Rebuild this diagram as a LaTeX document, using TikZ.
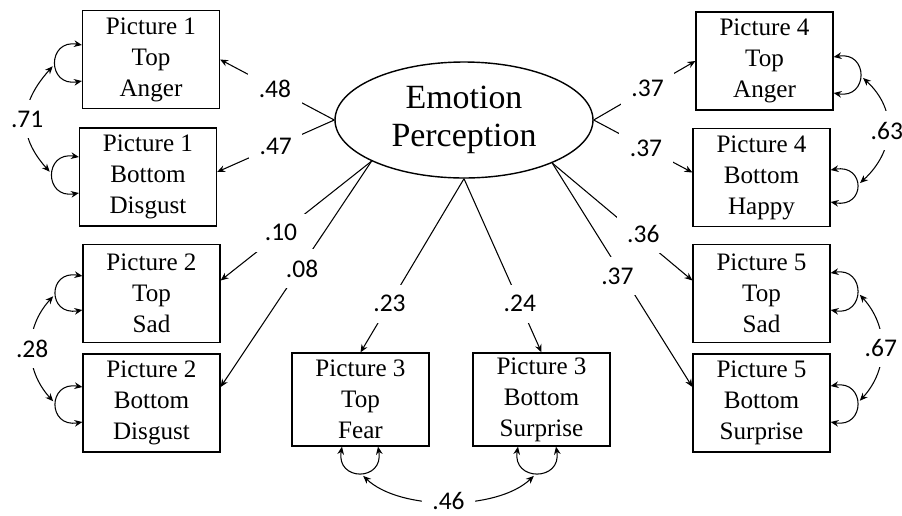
\documentclass[tikz,border=0pt]{standalone}
\usepackage{fontspec}
\setmainfont{Liberation Serif}
\newfontfamily\lblfont{Carlito}
\usetikzlibrary{arrows.meta,calc,shapes.geometric}
\begin{document}
\begin{tikzpicture}[x=0.02cm,y=-0.02cm,
  box/.style={draw,line width=0.7pt,minimum width=2.74cm,minimum height=1.96cm,align=center,inner sep=0pt,font=\fontsize{14.3}{17.6}\selectfont},
  lat/.style={draw,ellipse,line width=0.8pt,minimum width=5.16cm,minimum height=2.32cm,inner sep=0pt,align=center,font=\fontsize{19.3}{21.8}\selectfont},
  tip/.tip={Stealth[length=4.5pt,width=3.8pt]},
  arr/.style={line width=0.6pt,-tip},
  darr/.style={line width=0.6pt,tip-tip},
  cov/.style={darr,shorten <=2.5pt,shorten >=2.5pt},
  lbl/.style={fill=white,inner sep=6pt,font=\lblfont\fontsize{14.5}{16}\selectfont},
]
\useasboundingbox (0,0) rectangle (902,515);

\node[lat] (E) at (464,120) {Emotion\\Perception};

\node[box] (p1t) at (151,59.5) {Picture 1\\Top\\Anger};
\node[box] (p1b) at (148,177) {Picture 1\\Bottom\\Disgust};
\node[box] (p2t) at (151.5,293.5) {Picture 2\\Top\\Sad};
\node[box] (p2b) at (151.5,403) {Picture 2\\Bottom\\Disgust};
\node[box,minimum height=1.86cm] (p3t) at (360.5,399.5) {Picture 3\\Top\\Fear};
\node[box,minimum height=1.86cm] (p3b) at (541.5,399.5) {Picture 3\\Bottom\\Surprise};
\node[box] (p4t) at (764.5,61) {Picture 4\\Top\\Anger};
\node[box] (p4b) at (761.5,177.5) {Picture 4\\Bottom\\Happy};
\node[box] (p5t) at (761.5,293.5) {Picture 5\\Top\\Sad};
\node[box] (p5b) at (761.5,403) {Picture 5\\Bottom\\Surprise};

% loadings
\draw[arr] (E.west) -- node[lbl,pos=0.52]{.48} (p1t.east);
\draw[arr] (E.west) -- node[lbl,pos=0.5]{.47} ($(p1b.east)+(0,-5)$);
\draw[arr] (E.204.5) -- node[lbl,pos=0.6]{.10} ($(p2t.east)+(0,-13)$);
\draw[arr] (E.204.5) -- node[lbl,pos=0.46,yshift=-2pt]{.08} ($(p2b.east)+(0,-16)$);
\draw[arr] (E.south) -- node[lbl,pos=0.72]{.23} (p3t.north);
\draw[arr] (E.south) -- node[lbl,pos=0.72]{.24} (p3b.north);
\draw[arr] (E.east) -- node[lbl,pos=0.53]{.37} (p4t.west);
\draw[arr] (E.east) -- node[lbl,pos=0.53]{.37} ($(p4b.west)+(0,-5)$);
\draw[arr] (E.334.2) -- node[lbl,pos=0.6,xshift=4pt]{.36} ($(p5t.west)+(0,-13)$);
\draw[arr] (E.334.2) -- node[lbl,pos=0.49,xshift=-2pt,yshift=-2pt]{.37} ($(p5b.west)+(0,-16)$);

% residual loops
\draw[darr] ($(p1t.west)+(0,-14.5)$) .. controls +(-35,-6) and +(-35,6) .. coordinate[pos=0.5] (l1t) ($(p1t.west)+(0,21.5)$);
\draw[darr] ($(p1b.west)+(0,-20)$) .. controls +(-35,-6) and +(-35,6) .. coordinate[pos=0.5] (l1b) ($(p1b.west)+(0,16)$);
\draw[darr] ($(p2t.west)+(0,-17.5)$) .. controls +(-35,-6) and +(-35,6) .. coordinate[pos=0.5] (l2t) ($(p2t.west)+(0,16.5)$);
\draw[darr] ($(p2b.west)+(0,-16)$) .. controls +(-35,-6) and +(-35,6) .. coordinate[pos=0.5] (l2b) ($(p2b.west)+(0,19)$);
\draw[darr] ($(p4t.east)+(0,-4)$) .. controls +(35,-6) and +(35,6) .. coordinate[pos=0.5] (l4t) ($(p4t.east)+(0,32)$);
\draw[darr] ($(p4b.east)+(0,-7.5)$) .. controls +(35,-6) and +(35,6) .. coordinate[pos=0.5] (l4b) ($(p4b.east)+(0,24.5)$);
\draw[darr] ($(p5t.east)+(0,-20.5)$) .. controls +(35,-6) and +(35,6) .. coordinate[pos=0.5] (l5t) ($(p5t.east)+(0,16.5)$);
\draw[darr] ($(p5b.east)+(0,-17)$) .. controls +(35,-6) and +(35,6) .. coordinate[pos=0.5] (l5b) ($(p5b.east)+(0,19)$);
\draw[darr] ($(p3t.south)+(-18.5,0)$) .. controls +(-6,35) and +(6,35) .. coordinate[pos=0.5] (l3t) ($(p3t.south)+(17.5,0)$);
\draw[darr] ($(p3b.south)+(-23.5,0)$) .. controls +(-6,35) and +(6,35) .. coordinate[pos=0.5] (l3b) ($(p3b.south)+(14.5,0)$);

% covariances
\draw[cov] (l1t) .. controls +(-36,40) and +(-36,-40) .. node[lbl]{.71} (l1b);
\draw[cov] (l2t) .. controls +(-32,35) and +(-32,-35) .. node[lbl]{.28} (l2b);
\draw[cov] (l4t) .. controls +(38,35) and +(38,-35) .. node[lbl]{.63} (l4b);
\draw[cov] (l5t) .. controls +(32,35) and +(32,-35) .. node[lbl]{.67} (l5b);
\draw[cov] (l3t) .. controls +(40,38) and +(-40,38) .. node[lbl]{.46} (l3b);
\end{tikzpicture}
\end{document}
